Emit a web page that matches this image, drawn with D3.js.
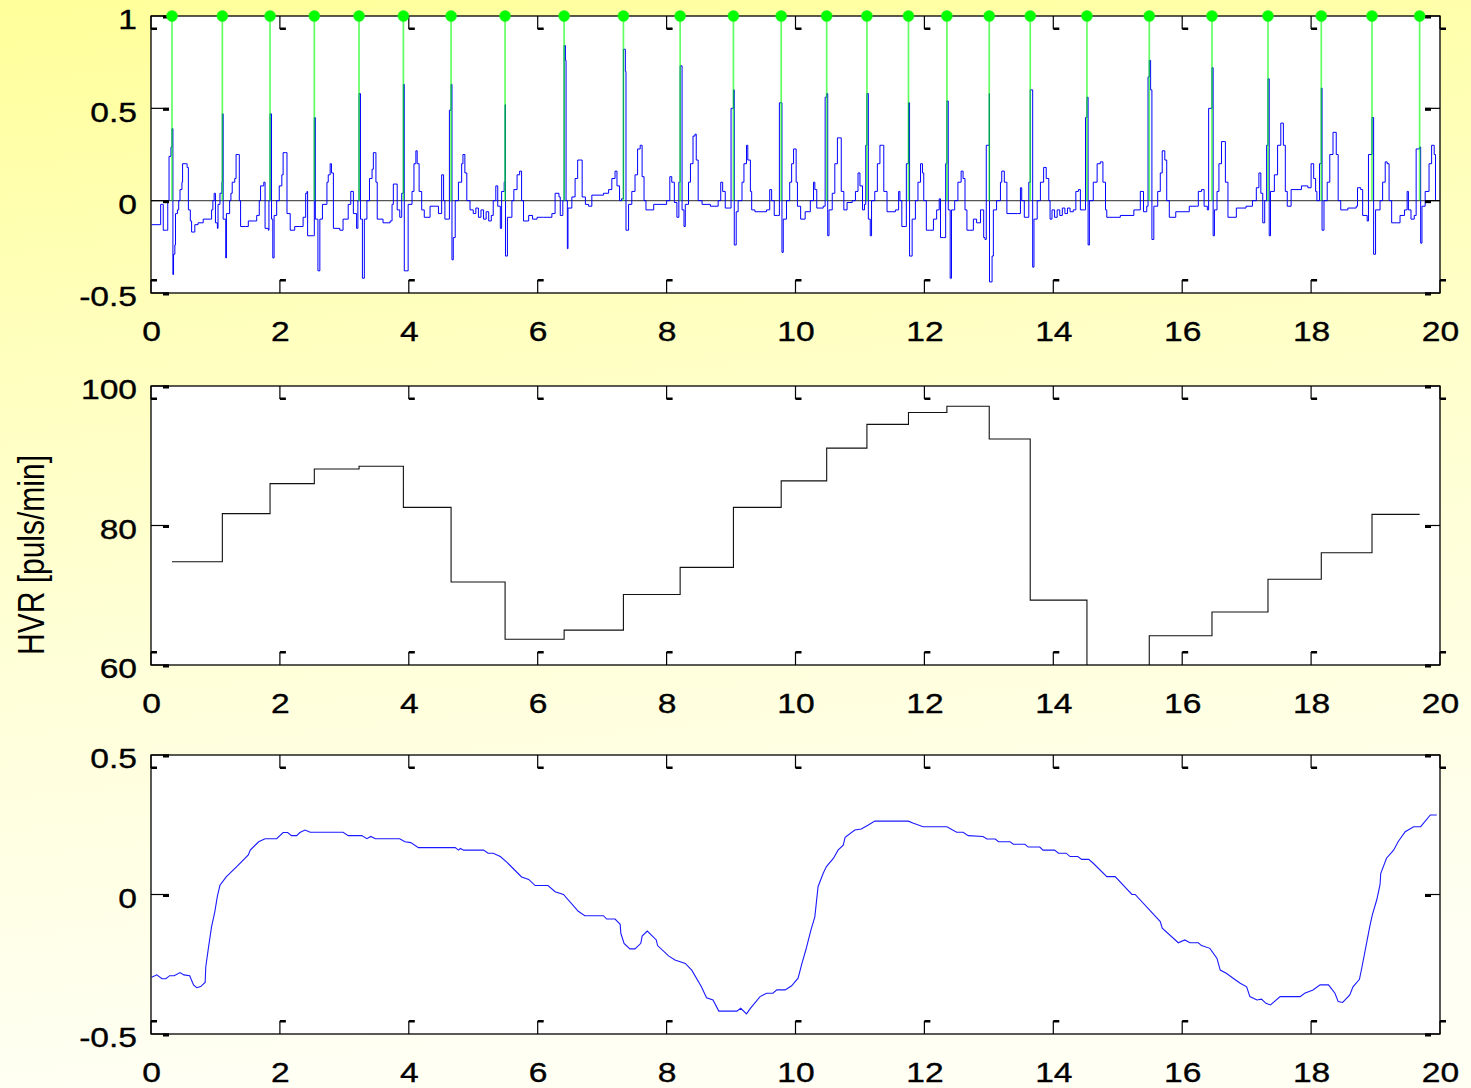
<!DOCTYPE html>
<html><head><meta charset="utf-8">
<script src="https://cdn.jsdelivr.net/npm/d3@7"></script>
<style>html,body{margin:0;padding:0;background:#fff;}svg{display:block;}</style>
</head><body>
<svg id="chart" width="1471" height="1088"></svg>
<script>
// ---------- DATA ----------
const xTicks = [0,2,4,6,8,10,12,14,16,18,20];
const ecgYTicks = [-0.5,0,0.5,1];
const hvrYTicks = [60,80,100];
const filtYTicks = [-0.5,0,0.5];
const yLabel = "HVR [puls/min]";

// R-peak times (s)
const beatTimes = [0.326,1.107,1.847,2.534,3.228,3.916,4.656,5.494,6.410,7.330,8.210,9.037,9.778,10.484,11.108,11.753,12.349,13.006,13.642,14.522,15.489,16.462,17.331,18.158,18.945,19.684];

// heart rate per interval (puls/min)
const hvrValues = [74.8,81.7,86.0,88.1,88.5,82.6,71.9,63.7,65.0,70.1,74.0,82.6,86.4,91.1,94.5,96.2,97.1,92.4,69.3,59.5,64.2,67.6,72.3,76.1,81.6];

// ECG signal [t, value]
const ecgPoints = [[0.01,-0.13],[0.14,-0.13],[0.15,-0.02],[0.18,-0.02],[0.19,-0.16],[0.24,-0.16],[0.26,0.0],[0.28,0.24],[0.31,0.29],[0.326,0.39],[0.34,-0.40],[0.35,-0.29],[0.37,-0.24],[0.38,-0.07],[0.41,-0.05],[0.43,0.0],[0.45,0.06],[0.48,0.1],[0.49,0.2],[0.55,0.2],[0.56,0.18],[0.58,-0.05],[0.61,-0.11],[0.63,-0.17],[0.68,-0.13],[0.73,-0.12],[0.81,-0.1],[0.92,-0.1],[0.94,-0.05],[0.96,0.0],[0.98,0.04],[1.0,-0.12],[1.03,-0.15],[1.04,-0.02],[1.07,0.04],[1.10,0.1],[1.107,0.47],[1.12,-0.1],[1.16,-0.31],[1.17,-0.07],[1.22,0.0],[1.24,0.04],[1.26,0.1],[1.30,0.12],[1.32,0.25],[1.36,0.25],[1.37,0.0],[1.39,-0.14],[1.47,-0.14],[1.51,-0.11],[1.61,-0.11],[1.64,-0.08],[1.68,0.0],[1.70,0.08],[1.75,0.1],[1.77,-0.15],[1.82,-0.16],[1.83,0.0],[1.847,0.47],[1.87,-0.1],[1.89,-0.31],[1.91,-0.08],[1.95,0.0],[1.99,0.08],[2.03,0.14],[2.05,0.26],[2.09,0.26],[2.11,-0.07],[2.16,-0.16],[2.23,-0.14],[2.31,-0.14],[2.36,-0.09],[2.40,0.04],[2.42,0.05],[2.43,-0.19],[2.52,-0.19],[2.534,0.45],[2.55,-0.1],[2.59,-0.38],[2.62,-0.1],[2.66,-0.02],[2.73,0.1],[2.75,0.14],[2.78,0.2],[2.80,0.15],[2.83,-0.15],[2.93,-0.16],[2.98,-0.1],[3.06,-0.02],[3.10,0.05],[3.14,-0.07],[3.19,-0.15],[3.21,0.0],[3.228,0.58],[3.25,-0.1],[3.28,-0.42],[3.31,-0.1],[3.35,0.0],[3.39,0.12],[3.43,0.17],[3.45,0.26],[3.48,0.26],[3.49,0.1],[3.51,-0.1],[3.6,-0.12],[3.71,-0.11],[3.74,-0.02],[3.76,0.09],[3.80,0.09],[3.82,-0.05],[3.86,-0.09],[3.89,0.04],[3.916,0.63],[3.93,-0.38],[3.97,-0.38],[3.99,-0.02],[4.05,0.05],[4.08,0.2],[4.11,0.27],[4.13,0.2],[4.16,0.05],[4.20,-0.05],[4.24,-0.09],[4.33,-0.03],[4.41,-0.03],[4.46,-0.07],[4.51,0.14],[4.54,0.0],[4.56,-0.1],[4.61,-0.1],[4.63,0.49],[4.656,0.63],[4.67,-0.32],[4.69,-0.2],[4.72,0.0],[4.77,0.1],[4.82,0.2],[4.84,0.25],[4.87,0.15],[4.90,0.0],[4.95,-0.05],[5.00,-0.07],[5.04,-0.04],[5.08,-0.09],[5.12,-0.05],[5.16,-0.1],[5.20,-0.06],[5.24,-0.11],[5.28,-0.08],[5.31,0.0],[5.35,0.08],[5.38,-0.03],[5.42,-0.15],[5.44,0.05],[5.48,0.1],[5.494,0.52],[5.50,-0.3],[5.52,-0.3],[5.53,-0.09],[5.60,0.0],[5.63,0.06],[5.68,0.14],[5.72,0.16],[5.75,0.0],[5.78,-0.11],[5.86,-0.08],[5.92,-0.1],[5.99,-0.09],[6.09,-0.09],[6.22,-0.07],[6.27,0.04],[6.33,0.02],[6.35,-0.08],[6.39,0.0],[6.41,0.84],[6.43,0.76],[6.44,0.0],[6.46,-0.26],[6.47,-0.04],[6.53,0.02],[6.58,0.12],[6.62,0.22],[6.66,0.22],[6.69,0.02],[6.74,-0.02],[6.79,-0.03],[6.84,0.03],[7.02,0.04],[7.10,0.06],[7.15,0.12],[7.20,0.16],[7.23,0.08],[7.27,0.0],[7.30,0.01],[7.33,0.82],[7.36,0.7],[7.37,-0.16],[7.41,-0.02],[7.46,0.05],[7.51,0.14],[7.55,0.28],[7.59,0.3],[7.62,0.13],[7.65,0.0],[7.68,-0.05],[7.80,-0.02],[8.00,0.0],[8.05,0.13],[8.08,0.1],[8.12,-0.01],[8.16,-0.09],[8.19,0.1],[8.21,0.73],[8.24,-0.05],[8.27,-0.14],[8.29,-0.02],[8.34,0.1],[8.37,0.2],[8.41,0.35],[8.44,0.36],[8.46,0.22],[8.49,0.0],[8.55,-0.02],[8.68,-0.03],[8.80,0.0],[8.84,0.1],[8.87,0.05],[8.91,-0.04],[8.98,-0.04],[9.00,0.5],[9.037,0.6],[9.05,-0.24],[9.08,-0.06],[9.11,0.0],[9.17,0.1],[9.20,0.2],[9.24,0.3],[9.26,0.22],[9.30,0.05],[9.32,-0.05],[9.37,-0.06],[9.55,-0.05],[9.60,0.06],[9.63,0.0],[9.67,-0.08],[9.72,-0.08],[9.75,0.53],[9.778,0.53],[9.79,-0.28],[9.81,-0.1],[9.86,0.0],[9.91,0.1],[9.94,0.2],[9.97,0.28],[10.01,0.1],[10.03,-0.03],[10.08,-0.1],[10.15,-0.06],[10.23,0.0],[10.28,0.1],[10.30,0.06],[10.33,-0.04],[10.43,-0.03],[10.46,0.56],[10.484,0.58],[10.50,-0.19],[10.52,-0.05],[10.57,0.04],[10.61,0.2],[10.65,0.34],[10.68,0.34],[10.71,0.05],[10.75,-0.05],[10.80,-0.01],[10.88,0.0],[10.93,0.05],[10.97,0.15],[11.00,0.08],[11.04,-0.05],[11.07,-0.02],[11.09,0.3],[11.108,0.58],[11.13,-0.1],[11.16,-0.19],[11.18,0.0],[11.23,0.05],[11.27,0.2],[11.31,0.3],[11.35,0.3],[11.37,0.05],[11.42,-0.06],[11.55,-0.05],[11.60,0.05],[11.62,0.0],[11.65,-0.14],[11.70,-0.14],[11.72,0.2],[11.753,0.53],[11.77,-0.3],[11.81,-0.1],[11.86,0.0],[11.90,0.1],[11.94,0.2],[11.97,0.15],[11.99,0.0],[12.03,-0.16],[12.14,-0.1],[12.19,-0.05],[12.23,0.01],[12.25,-0.2],[12.30,-0.2],[12.33,0.2],[12.349,0.54],[12.37,-0.05],[12.40,-0.42],[12.42,-0.05],[12.47,0.0],[12.52,0.1],[12.57,0.16],[12.60,0.12],[12.63,-0.05],[12.66,-0.16],[12.76,-0.1],[12.81,-0.12],[12.87,-0.05],[12.92,-0.2],[12.94,-0.21],[12.96,0.3],[13.006,0.58],[13.01,-0.44],[13.05,-0.3],[13.07,-0.05],[13.12,0.0],[13.18,0.1],[13.20,0.16],[13.24,0.1],[13.28,-0.07],[13.44,-0.07],[13.49,0.07],[13.51,0.0],[13.55,-0.09],[13.59,-0.09],[13.62,0.1],[13.642,0.6],[13.68,-0.36],[13.70,-0.1],[13.75,0.0],[13.80,0.1],[13.85,0.18],[13.89,0.12],[13.93,0.0],[13.95,-0.1],[13.98,-0.05],[14.02,-0.09],[14.06,-0.05],[14.10,-0.08],[14.14,-0.04],[14.18,-0.07],[14.22,-0.04],[14.26,-0.06],[14.31,-0.05],[14.35,0.05],[14.39,0.06],[14.42,-0.05],[14.48,-0.05],[14.50,0.45],[14.522,0.56],[14.54,-0.24],[14.56,0.0],[14.62,0.1],[14.68,0.2],[14.73,0.21],[14.77,0.1],[14.81,-0.05],[14.83,-0.09],[15.04,-0.08],[15.25,-0.05],[15.35,0.05],[15.40,-0.06],[15.45,-0.03],[15.47,0.67],[15.489,0.76],[15.51,0.6],[15.53,-0.21],[15.56,-0.03],[15.62,0.05],[15.66,0.15],[15.69,0.27],[15.73,0.22],[15.76,0.0],[15.80,-0.09],[15.90,-0.06],[16.11,-0.03],[16.22,-0.03],[16.25,0.05],[16.30,0.06],[16.34,-0.03],[16.39,-0.05],[16.41,0.5],[16.462,0.72],[16.48,-0.19],[16.50,-0.05],[16.54,0.05],[16.57,0.2],[16.61,0.32],[16.65,0.32],[16.67,0.1],[16.71,-0.09],[16.84,-0.04],[16.99,-0.03],[17.09,0.0],[17.15,0.07],[17.19,0.15],[17.22,0.04],[17.25,-0.12],[17.28,0.0],[17.31,0.3],[17.331,0.66],[17.35,-0.19],[17.37,0.05],[17.43,0.14],[17.48,0.3],[17.53,0.42],[17.57,0.3],[17.60,0.05],[17.63,-0.03],[17.69,0.06],[17.85,0.08],[17.95,0.07],[18.00,0.2],[18.04,0.12],[18.07,0.05],[18.09,0.0],[18.13,0.2],[18.158,0.61],[18.17,-0.16],[18.20,0.0],[18.25,0.1],[18.29,0.25],[18.34,0.37],[18.39,0.25],[18.42,0.0],[18.46,-0.05],[18.57,-0.04],[18.70,-0.03],[18.72,0.07],[18.77,0.06],[18.80,-0.08],[18.87,-0.11],[18.89,0.25],[18.945,0.45],[18.97,-0.29],[19.00,-0.05],[19.07,0.0],[19.11,0.1],[19.15,0.21],[19.18,0.2],[19.21,0.0],[19.25,-0.12],[19.38,-0.08],[19.45,-0.05],[19.49,0.05],[19.51,-0.05],[19.55,-0.1],[19.60,-0.08],[19.63,0.28],[19.684,0.29],[19.70,-0.23],[19.72,-0.03],[19.77,0.05],[19.83,0.2],[19.87,0.3],[19.91,0.25],[19.93,0.0]];

// bottom panel signal [t, value]
const filtPoints = [[0.01,-0.297],[0.09,-0.288],[0.17,-0.302],[0.23,-0.302],[0.29,-0.291],[0.36,-0.291],[0.45,-0.28],[0.51,-0.288],[0.6,-0.291],[0.66,-0.324],[0.71,-0.334],[0.77,-0.33],[0.84,-0.315],[0.85,-0.259],[0.89,-0.193],[0.94,-0.115],[0.99,-0.062],[1.03,-0.006],[1.07,0.033],[1.17,0.064],[1.33,0.1],[1.51,0.142],[1.54,0.159],[1.67,0.189],[1.77,0.2],[1.95,0.2],[2.05,0.222],[2.12,0.222],[2.18,0.211],[2.26,0.211],[2.31,0.222],[2.39,0.231],[2.47,0.223],[2.98,0.223],[3.06,0.211],[3.27,0.211],[3.35,0.2],[3.41,0.208],[3.48,0.2],[3.86,0.2],[3.94,0.189],[4.03,0.186],[4.15,0.168],[4.72,0.168],[4.77,0.159],[4.8,0.165],[4.85,0.159],[5.16,0.159],[5.23,0.148],[5.31,0.148],[5.42,0.136],[5.52,0.116],[5.75,0.063],[5.86,0.054],[5.96,0.032],[6.16,0.032],[6.27,0.01],[6.4,0.0],[6.63,-0.06],[6.73,-0.076],[7.02,-0.076],[7.07,-0.088],[7.2,-0.088],[7.28,-0.107],[7.29,-0.139],[7.34,-0.175],[7.43,-0.195],[7.51,-0.195],[7.6,-0.175],[7.62,-0.149],[7.7,-0.131],[7.84,-0.163],[7.86,-0.183],[8.03,-0.22],[8.13,-0.235],[8.29,-0.247],[8.39,-0.271],[8.54,-0.331],[8.62,-0.37],[8.72,-0.378],[8.81,-0.418],[9.09,-0.418],[9.15,-0.408],[9.24,-0.428],[9.3,-0.408],[9.45,-0.366],[9.55,-0.354],[9.65,-0.354],[9.71,-0.342],[9.84,-0.342],[9.94,-0.327],[10.04,-0.3],[10.1,-0.247],[10.16,-0.199],[10.24,-0.127],[10.3,-0.08],[10.35,0.028],[10.43,0.076],[10.48,0.1],[10.59,0.13],[10.66,0.159],[10.74,0.177],[10.77,0.205],[10.92,0.231],[11.02,0.235],[11.13,0.249],[11.23,0.263],[11.75,0.263],[11.83,0.255],[11.98,0.243],[12.35,0.243],[12.5,0.223],[12.6,0.223],[12.68,0.211],[12.91,0.208],[12.97,0.199],[13.1,0.199],[13.15,0.189],[13.33,0.189],[13.38,0.18],[13.56,0.18],[13.61,0.17],[13.79,0.17],[13.84,0.159],[14.02,0.159],[14.08,0.148],[14.2,0.148],[14.26,0.136],[14.38,0.136],[14.44,0.126],[14.55,0.126],[14.62,0.112],[14.83,0.064],[14.96,0.064],[15.22,0.0],[15.27,0.0],[15.66,-0.097],[15.69,-0.121],[15.94,-0.173],[16.04,-0.163],[16.12,-0.173],[16.25,-0.173],[16.3,-0.183],[16.43,-0.193],[16.54,-0.229],[16.59,-0.271],[16.69,-0.283],[16.79,-0.3],[16.9,-0.318],[17.0,-0.331],[17.05,-0.366],[17.16,-0.378],[17.23,-0.375],[17.3,-0.39],[17.37,-0.396],[17.52,-0.366],[17.83,-0.366],[17.9,-0.354],[18.03,-0.342],[18.14,-0.324],[18.27,-0.324],[18.37,-0.354],[18.42,-0.384],[18.49,-0.387],[18.6,-0.36],[18.65,-0.331],[18.75,-0.304],[18.79,-0.259],[18.86,-0.175],[18.91,-0.115],[18.95,-0.073],[19.02,-0.018],[19.07,0.036],[19.08,0.075],[19.17,0.13],[19.28,0.159],[19.35,0.189],[19.46,0.225],[19.59,0.243],[19.7,0.243],[19.85,0.285],[19.95,0.285]];

// ---------- DRAW ----------
const svg = d3.select("#chart");
const W = 1471, H = 1088;
const FONT = "'Liberation Sans', Arial, Helvetica, sans-serif";
const SX = 1.2; // horizontal text stretch

const defs = svg.append("defs");
const grad = defs.append("linearGradient").attr("id","bg").attr("x1","0").attr("y1","0").attr("x2","0.15").attr("y2","1");
[[0,"#ffff9a"],[0.3,"#ffffbc"],[0.6,"#ffffd8"],[1,"#fffff4"]].forEach(([o,c]) =>
  grad.append("stop").attr("offset",o).attr("stop-color",c));
svg.append("rect").attr("width",W).attr("height",H).attr("fill","url(#bg)");

const x = d3.scaleLinear().domain([0,20]).range([151,1440]);

function panel(id, top, bottom, domain, yTicks) {
  const y = d3.scaleLinear().domain(domain).range([bottom, top]);
  const g = svg.append("g");
  defs.append("clipPath").attr("id","clip"+id).append("rect")
    .attr("x",x(0)).attr("y",top).attr("width",x(20)-x(0)).attr("height",bottom-top);
  g.append("rect").attr("x",x(0)).attr("y",top).attr("width",x(20)-x(0)).attr("height",bottom-top).attr("fill","#fff");
  const plot = g.append("g").attr("clip-path",`url(#clip${id})`);
  return {y, g, plot, top, bottom, yTicks};
}

function finishPanel(p) {
  const {y, g, top, bottom, yTicks} = p;
  const L = x(0), R = x(20);
  g.append("rect").attr("x",L).attr("y",top).attr("width",R-L).attr("height",bottom-top)
    .attr("fill","none").attr("stroke","#000").attr("stroke-width",1.3);
  const tk = g.append("g").attr("fill","#000").attr("stroke","#000");
  xTicks.forEach(v => {
    const xx = x(v);
    tk.append("line").attr("x1",xx).attr("x2",xx).attr("y1",top).attr("y2",top+13).attr("stroke-width",1.2);
    tk.append("rect").attr("x",xx).attr("y",top+11.5).attr("width",6).attr("height",2.5).attr("stroke","none");
    tk.append("line").attr("x1",xx).attr("x2",xx).attr("y1",bottom).attr("y2",bottom-13).attr("stroke-width",1.2);
    tk.append("rect").attr("x",xx).attr("y",bottom-14).attr("width",6).attr("height",2.5).attr("stroke","none");
  });
  yTicks.forEach(v => {
    const yy = y(v);
    tk.append("line").attr("x1",L).attr("x2",L+18).attr("y1",yy).attr("y2",yy).attr("stroke-width",1.2);
    tk.append("rect").attr("x",L+12).attr("y",yy-0.5).attr("width",6).attr("height",3).attr("stroke","none");
    tk.append("line").attr("x1",R).attr("x2",R-15).attr("y1",yy).attr("y2",yy).attr("stroke-width",1.2);
    tk.append("rect").attr("x",R-15).attr("y",yy-0.5).attr("width",6).attr("height",3).attr("stroke","none");
  });
  // tick labels via d3 axes
  const ax = g.append("g").attr("transform",`translate(0,${bottom+48})`)
    .call(d3.axisBottom(x).tickValues(xTicks).tickFormat(d3.format("d")).tickSize(0).tickPadding(0));
  ax.select(".domain").remove();
  ax.selectAll("text").attr("y",0).attr("dy","0").attr("transform",`scale(${SX},1)`)
    .style("font-family",FONT).style("font-size","28px").attr("fill","#000")
    .attr("stroke","#000").attr("stroke-width",0.35);
  const ay = g.append("g").attr("transform","translate(137,0)")
    .call(d3.axisLeft(y).tickValues(yTicks).tickFormat(d => String(d).replace("\u2212","-")).tickSize(0).tickPadding(0));
  ay.select(".domain").remove();
  ay.selectAll("text").attr("x",0).attr("dy","0.46em").attr("transform",`scale(${SX},1)`)
    .style("font-family",FONT).style("font-size","28px").attr("fill","#000")
    .attr("stroke","#000").attr("stroke-width",0.35);
}

// ---- Panel 1: ECG with R-peak stems
const p1 = panel(1, 16, 293, [-0.5,1], ecgYTicks);
p1.plot.append("line").attr("x1",x(0)).attr("x2",x(20)).attr("y1",p1.y(0)).attr("y2",p1.y(0))
  .attr("stroke","#555").attr("stroke-width",1.1);
p1.plot.append("path").datum(ecgPoints)
  .attr("d", d3.line().x(d=>x(d[0])).y(d=>p1.y(d[1])).curve(d3.curveStepAfter))
  .attr("fill","none").attr("stroke","#0000ff").attr("stroke-width",1.0);
p1.plot.selectAll("line.stem").data(beatTimes).join("line").attr("class","stem")
  .attr("x1",d=>x(d)).attr("x2",d=>x(d)).attr("y1",p1.y(0)).attr("y2",p1.y(1))
  .attr("stroke","#00ff00").attr("stroke-opacity",0.62).attr("stroke-width",1.7);
finishPanel(p1);
p1.g.selectAll("circle.mk").data(beatTimes).join("circle").attr("class","mk")
  .attr("cx",d=>x(d)).attr("cy",p1.y(1)).attr("r",5.5).attr("fill","#00ff00").attr("stroke","#22ee22").attr("stroke-width",0.5);

// ---- Panel 2: HVR stairs
const p2 = panel(2, 386, 665, [60,100], hvrYTicks);
const stairPts = beatTimes.map((t,i) => [t, hvrValues[Math.min(i, hvrValues.length-1)]]);
p2.plot.append("path").datum(stairPts)
  .attr("d", d3.line().x(d=>x(d[0])).y(d=>p2.y(d[1])).curve(d3.curveStepAfter))
  .attr("fill","none").attr("stroke","#111").attr("stroke-width",1.1);
finishPanel(p2);

// ---- Panel 3: filtered signal
const p3 = panel(3, 755, 1034, [-0.5,0.5], filtYTicks);
p3.plot.append("path").datum(filtPoints)
  .attr("d", d3.line().x(d=>x(d[0])).y(d=>p3.y(d[1])))
  .attr("fill","none").attr("stroke","#1a1aff").attr("stroke-width",1.1);
finishPanel(p3);

// y label
svg.append("text").attr("transform",`translate(43.5,555) scale(${SX},1) rotate(-90)`)
  .attr("text-anchor","middle").style("font-family",FONT).style("font-size","30px").attr("fill","#000")
  .text(yLabel);
</script>
</body></html>
